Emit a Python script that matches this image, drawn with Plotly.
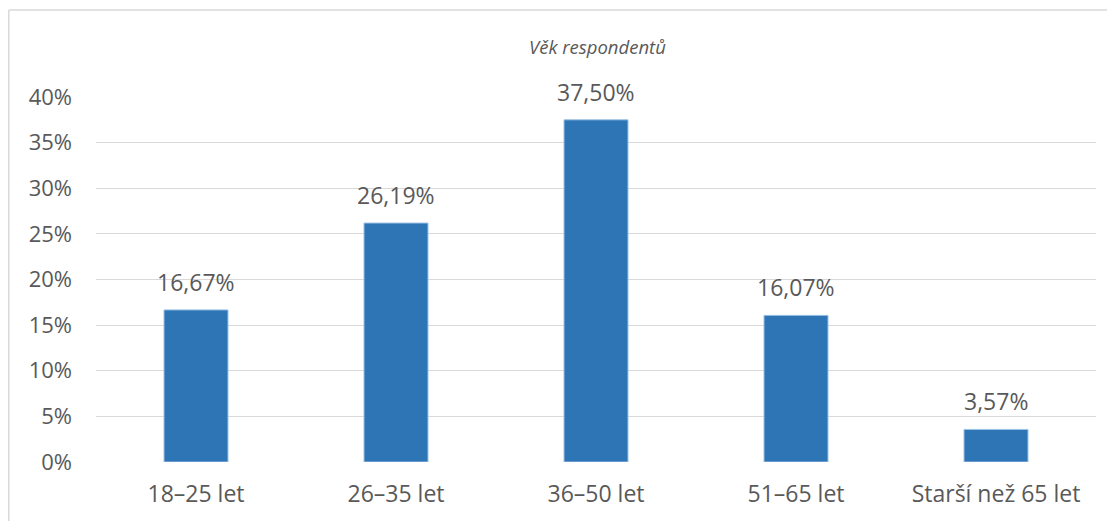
import plotly.graph_objects as go

categories = ["18–25 let", "26–35 let", "36–50 let", "51–65 let", "Starší než 65 let"]
values = [16.67, 26.19, 37.50, 16.07, 3.57]
labels = ["16,67%", "26,19%", "37,50%", "16,07%", "3,57%"]
tick_vals = [0, 5, 10, 15, 20, 25, 30, 35, 40]
tick_text = ["0%", "5%", "10%", "15%", "20%", "25%", "30%", "35%", "40%"]
title_text = "Věk respondentů"

# page has an 8px body margin; the figure is sized to fit the 1115x521 window
OFF = 8
W, H = 1115 - OFF, 521 - OFF
# plot area in window pixels: x 96..1096, y 97..462
ml, mr, mt, mb = 96 - OFF, W - (1096 - OFF), 97 - OFF, H - (462 - OFF)
pw, ph = W - ml - mr, H - mt - mb
font_fam = "Open Sans, Noto Sans, sans-serif"
gray = "#595959"

fig = go.Figure()
fig.add_trace(go.Bar(
    x=categories, y=values, width=0.32,
    marker=dict(color="#2E75B6", line=dict(color="#9DC3E6", width=1)),
    hoverinfo="skip",
))

def px_x(x):
    return (x - OFF - ml) / pw

def px_y(y):
    return 1 - (y - OFF - mt) / ph

annotations = []
for c, v, t in zip(categories, values, labels):
    annotations.append(dict(x=c, y=v, text=t, showarrow=False, xref="x", yref="y",
                            yanchor="bottom", yshift=10,
                            font=dict(size=23, color=gray, family=font_fam)))
annotations.append(dict(x=px_x(597), y=px_y(47), xref="paper", yref="paper",
                        text="<i>" + title_text + "</i>", showarrow=False,
                        xanchor="center", yanchor="middle",
                        font=dict(size=18.5, color=gray, family=font_fam)))

shapes = [
    dict(type="line", xref="paper", yref="paper", x0=px_x(8.8), x1=px_x(1130), y0=px_y(10), y1=px_y(10),
         line=dict(color="#D9D9D9", width=1.5), layer="below"),
    dict(type="line", xref="paper", yref="paper", x0=px_x(8.8), x1=px_x(8.8), y0=px_y(10), y1=px_y(540),
         line=dict(color="#D9D9D9", width=1.5), layer="below"),
]

fig.update_layout(
    width=W, height=H,
    margin=dict(l=ml, r=mr, t=mt, b=mb),
    paper_bgcolor="white", plot_bgcolor="white",
    showlegend=False,
    annotations=annotations,
    shapes=shapes,
    font=dict(family=font_fam, color=gray, size=20),
    xaxis=dict(showgrid=False, showline=False, ticks="", tickfont=dict(size=23, color=gray),
               ticklabelstandoff=16, fixedrange=True),
    yaxis=dict(range=[0, 40], tickvals=tick_vals, ticktext=tick_text, showgrid=True,
               gridcolor="#D9D9D9", gridwidth=1, zeroline=False, showline=False, ticks="",
               ticklabelstandoff=23, tickfont=dict(size=22, color=gray), fixedrange=True),
)

fig.write_html("out.html", config={"displayModeBar": False})
